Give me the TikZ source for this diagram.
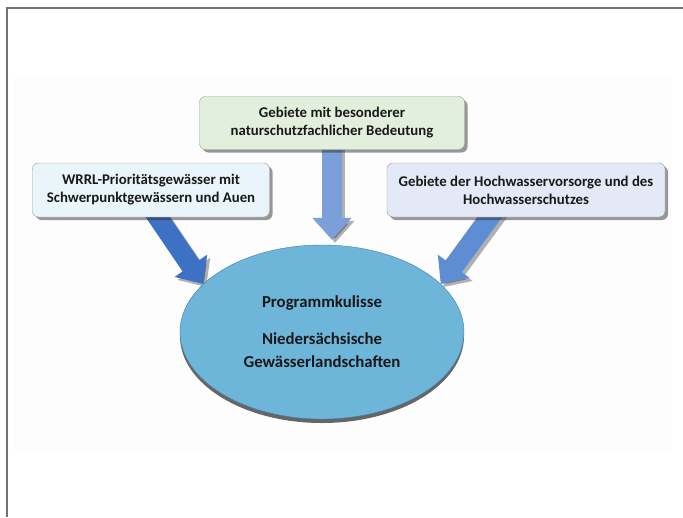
\documentclass[tikz,border=0pt]{standalone}
\usepackage{fontspec}
\setmainfont{Carlito}
\usetikzlibrary{positioning, calc, arrows.meta, shadows, shapes.geometric, backgrounds}

\definecolor{boxgreen}{HTML}{E3EFDD}
\definecolor{boxblue}{HTML}{EAF4FB}
\definecolor{boxlilac}{HTML}{E4E9F7}
\definecolor{kulissefill}{HTML}{6DB5D9}
\definecolor{kulisseline}{HTML}{3F7FA6}
\definecolor{arrowdark}{HTML}{3C71C3}
\definecolor{arrowmid}{HTML}{5E8DD3}
\definecolor{arrowlight}{HTML}{7A9FDA}

\tikzset{
  infobox/.style={draw=black!40, rounded corners=6pt, align=center,
    font=\fontsize{14.8pt}{18pt}\selectfont\bfseries, text=black!90,
    drop shadow={shadow xshift=3pt, shadow yshift=-3pt, fill=black!80, opacity=.5}},
  flowarrow/.style={line width=20pt, -{Triangle[width=38pt,length=22pt]}},
  flowshadow/.style={flowarrow, draw=black, opacity=.3, transform canvas={shift={(3pt,-3pt)}}}
}

\begin{document}
\begin{tikzpicture}[x=1pt,y=-1pt]

    \useasboundingbox (0,0) rectangle (683,517);

    % --- Frame ---
    \draw[line width=1.5pt, black!55] (683,8) -- (7,8) -- (7,517);

    % --- Source boxes ---
    \node[infobox, fill=boxgreen, minimum width=265pt, minimum height=53pt] (natur) at (332,123)
        {Gebiete mit besonderer\\naturschutzfachlicher Bedeutung};
    \node[infobox, fill=boxblue, minimum width=237pt, minimum height=54pt] (wrrl) at (151,190)
        {WRRL-Prioritätsgewässer mit\\Schwerpunktgewässern und Auen};
    \node[infobox, fill=boxlilac, minimum width=278pt, minimum height=54pt] (hws) at (526,190)
        {Gebiete der Hochwasservorsorge und des\\Hochwasserschutzes};

    % --- Target ellipse ---
    \node[ellipse, draw=kulisseline, fill=kulissefill, minimum width=284pt, minimum height=174pt,
          inner sep=0pt, align=center, font=\fontsize{16.8pt}{23pt}\selectfont\bfseries, text=black!90,
          drop shadow={shadow xshift=0pt, shadow yshift=-4pt, fill=black!85, opacity=.7}]
        (kulisse) at (322,332) {Programmkulisse\\[14pt]Niedersächsische\\Gewässerlandschaften};

    % --- Arrows (behind the boxes) ---
    \begin{scope}[on background layer]
        \fill[black!0.8] (14,77) rectangle (672,452);

        \draw[flowshadow] ([yshift=10pt]wrrl.south) -- (kulisse.158);
        \draw[flowarrow, arrowdark] ([yshift=10pt]wrrl.south) -- (kulisse.158);

        \draw[flowshadow] ([yshift=10pt]natur.south) -- ([yshift=5pt]natur.south |- kulisse.north);
        \draw[flowarrow, arrowlight] ([yshift=10pt]natur.south) -- ([yshift=5pt]natur.south |- kulisse.north);

        \draw[flowshadow] ([xshift=-29pt,yshift=10pt]hws.south) -- (kulisse.22);
        \draw[flowarrow, arrowmid] ([xshift=-29pt,yshift=10pt]hws.south) -- (kulisse.22);
    \end{scope}

\end{tikzpicture}
\end{document}
